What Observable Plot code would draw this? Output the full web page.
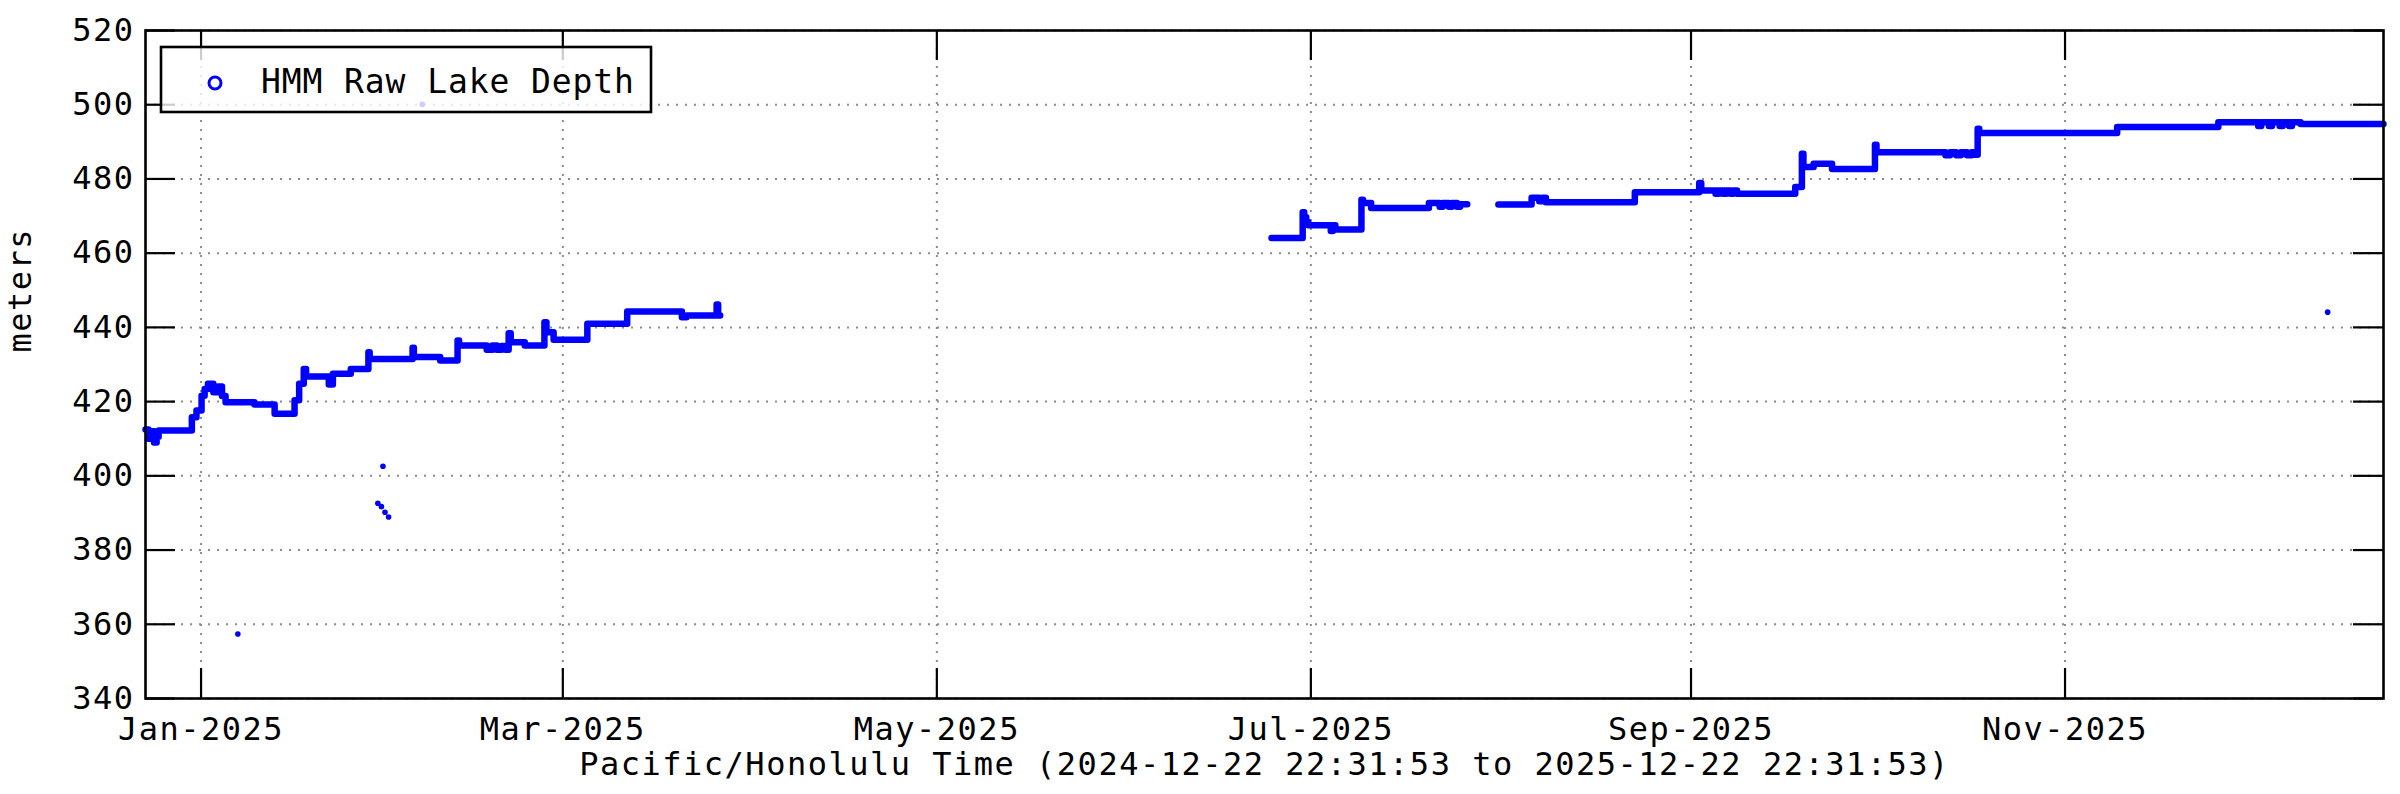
<!DOCTYPE html>
<html><head><meta charset="utf-8">
<script src="https://cdn.jsdelivr.net/npm/d3@7"></script>
<script src="https://cdn.jsdelivr.net/npm/@observablehq/plot@0.6"></script>
<style>
html,body{margin:0;padding:0;background:#fff;}
#wrap{width:2400px;height:794px;}
</style></head><body><div id="wrap"></div>
<script>
// ---- data (Pacific/Honolulu time) ----
const seg1Dates = ["2024-12-22 22:32","2024-12-23 10:00","2024-12-23 20:00","2024-12-24 08:00","2024-12-24 18:00","2024-12-25 02:00","2024-12-30 12:00","2024-12-31 06:00","2025-01-01 02:00","2025-01-01 14:00","2025-01-02 03:00","2025-01-03 00:00","2025-01-03 18:00","2025-01-04 10:00","2025-01-05 00:00","2025-01-09 17:00","2025-01-13 00:00","2025-01-16 06:00","2025-01-17 00:00","2025-01-17 18:00","2025-01-18 03:00","2025-01-21 20:00","2025-01-22 12:00","2025-01-25 10:00","2025-01-28 07:00","2025-01-28 12:00","2025-02-04 12:00","2025-02-04 17:00","2025-02-09 00:00","2025-02-11 20:00","2025-02-12 02:00","2025-02-16 14:00","2025-02-17 12:00","2025-02-18 06:00","2025-02-19 00:00","2025-02-19 16:00","2025-02-20 04:00","2025-02-20 12:00","2025-02-22 19:00","2025-02-26 00:00","2025-02-26 08:00","2025-02-27 12:00","2025-03-05 00:00","2025-03-11 12:00","2025-03-20 10:00","2025-03-21 04:00","2025-03-26 02:00","2025-03-26 08:00","2025-03-26 16:00"];
const seg1Values = [412.5,410,412,409,410.5,412.2,415.8,417.6,421.6,423.4,424.8,422.5,424.1,421.5,419.8,419.2,416.7,420.4,424.8,428.8,426.8,424.6,427.5,428.8,433.3,431.5,434.5,432.0,431.1,436.5,435.1,434.0,435.1,434.0,435.0,434.0,438.4,436.0,435.1,441.4,438.7,436.7,441.0,444.3,442.7,443.2,446.2,443.2,443.2];

const seg2Dates = ["2025-06-24 14:00","2025-06-29 16:00","2025-06-29 22:00","2025-06-30 06:00","2025-06-30 14:00","2025-07-04 06:00","2025-07-04 14:00","2025-07-05 00:00","2025-07-09 06:00","2025-07-09 12:00","2025-07-10 20:00","2025-07-20 06:00","2025-07-22 00:00","2025-07-22 12:00","2025-07-23 12:00","2025-07-24 00:00","2025-07-24 20:00","2025-07-25 08:00","2025-07-26 12:00"];
const seg2Values = [464.1,471.0,469.7,468.3,467.5,466.0,467.5,466.4,474.4,473.5,472.2,473.5,472.5,473.5,472.5,473.5,472.5,473.2,473.2];

const seg3Dates = ["2025-07-31 14:00","2025-08-06 00:00","2025-08-07 06:00","2025-08-07 18:00","2025-08-08 08:00","2025-08-22 20:00","2025-09-02 08:00","2025-09-02 16:00","2025-09-05 00:00","2025-09-05 12:00","2025-09-06 06:00","2025-09-06 18:00","2025-09-07 12:00","2025-09-07 20:00","2025-09-08 12:00","2025-09-18 00:00","2025-09-19 02:00","2025-09-19 08:00","2025-09-21 00:00","2025-09-24 00:00","2025-10-01 00:00","2025-10-01 06:00","2025-10-12 12:00","2025-10-13 06:00","2025-10-14 06:00","2025-10-15 00:00","2025-10-16 00:00","2025-10-16 18:00","2025-10-17 08:00","2025-10-17 18:00","2025-10-18 00:00","2025-11-09 12:00","2025-11-26 00:00","2025-12-02 12:00","2025-12-03 00:00","2025-12-04 06:00","2025-12-04 18:00","2025-12-06 00:00","2025-12-06 12:00","2025-12-07 12:00","2025-12-08 00:00","2025-12-09 10:00","2025-12-22 22:31"];
const seg3Values = [473.1,474.9,474.0,474.9,473.7,476.4,478.9,476.9,476.0,476.9,476.0,476.9,476.0,476.9,476.0,477.8,486.8,483.2,484.1,482.7,489.2,487.2,486.4,487.2,486.4,487.2,486.4,487.2,486.5,493.5,492.4,494.0,495.3,494.3,495.3,494.3,495.3,494.3,495.3,494.3,495.3,494.8,494.8];

const outlierDates = ["2025-01-07 00:00","2025-01-29 20:00","2025-01-30 10:00","2025-01-30 16:00","2025-01-31 00:00","2025-01-31 14:00","2025-02-06 02:00","2025-12-13 20:00"];
const outlierValues = [357.4,392.6,391.7,402.6,390.2,388.9,500.1,444.1];

const xTickDates = ["2025-01-01 00:00","2025-03-01 00:00","2025-05-01 00:00","2025-07-01 00:00","2025-09-01 00:00","2025-11-01 00:00"];
const yTicks = [340,360,380,400,420,440,460,480,500,520];
const xDomain = ["2024-12-22 22:31:53","2025-12-22 22:31:53"];
const yDomain = [340,520];
const seriesName = "HMM Raw Lake Depth";
const xTitle = "Pacific/Honolulu Time (2024-12-22 22:31:53 to 2025-12-22 22:31:53)";
const yTitle = "meters";

// ---- build ----
const parseT = d3.utcParse("%Y-%m-%d %H:%M");
const parseS = d3.utcParse("%Y-%m-%d %H:%M:%S");
const lineData = [];
[[seg1Dates,seg1Values],[seg2Dates,seg2Values],[seg3Dates,seg3Values]].forEach(([ds,vs],k)=>{
  ds.forEach((d,i)=>lineData.push({date:parseT(d), value:vs[i], seg:k}));
});
const outliers = outlierDates.map((d,i)=>({date:parseT(d), value:outlierValues[i]}));
const xTicks = xTickDates.map(parseT);

const W=2400,H=794,mL=145,mR=17,mT=30,mB=96;
const pw=W-mL-mR, ph=H-mT-mB, TL=30;
const font = "'DejaVu Sans Mono', monospace";
const blue = "#0000ff";
const gridStyle = {stroke:"#8c8c8c", strokeOpacity:1, strokeWidth:2, strokeDasharray:"2,7"};

const chart = Plot.plot({
  width:W, height:H, marginLeft:mL, marginRight:mR, marginTop:mT, marginBottom:mB,
  x:{type:"utc", domain:xDomain.map(parseS)},
  y:{domain:yDomain},
  style:{fontFamily:font, fontSize:"32px", background:"#fff", color:"#000", letterSpacing:"1.5px", overflow:"visible"},
  marks:[
    Plot.gridX(xTicks, gridStyle),
    Plot.gridY(yTicks, gridStyle),
    Plot.line(lineData, {x:"date", y:"value", z:"seg", curve:"step-after", stroke:blue, strokeWidth:6.5}),
    Plot.dot(outliers, {x:"date", y:"value", r:2.8, fill:blue, stroke:null}),
    Plot.ruleX(xTicks, {insetTop:ph-TL, stroke:"#000", strokeWidth:2.2}),
    Plot.ruleX(xTicks, {insetBottom:ph-TL, stroke:"#000", strokeWidth:2.2}),
    Plot.ruleY(yTicks, {insetRight:pw-TL, stroke:"#000", strokeWidth:2.2}),
    Plot.ruleY(yTicks, {insetLeft:pw-TL, stroke:"#000", strokeWidth:2.2}),
    Plot.frame({stroke:"#000", strokeWidth:2.6}),
    Plot.axisX(xTicks, {tickSize:0, tickPadding:19, tickFormat:d3.utcFormat("%b-%Y"), label:null, fontSize:32}),
    Plot.axisY(yTicks, {tickSize:0, tickPadding:11, label:null, fontSize:32}),
    Plot.text([xTitle], {frameAnchor:"bottom", dy:66, lineAnchor:"middle", fontSize:32}),
    Plot.text([yTitle], {frameAnchor:"left", dx:-125, dy:-12, rotate:-90, lineAnchor:"middle", fontSize:32})
  ]
});
document.getElementById("wrap").appendChild(chart);

// legend (inside the plot, upper left)
const svg = d3.select(chart);
const lg = svg.append("g").attr("font-family", font).attr("font-size", 33).attr("letter-spacing","0.9px").attr("text-anchor","start");
lg.append("rect").attr("x",161).attr("y",47).attr("width",490).attr("height",65)
  .attr("fill","#fff").attr("fill-opacity",0.8).attr("stroke","#000").attr("stroke-width",2.6);
lg.append("circle").attr("cx",215).attr("cy",83).attr("r",6).attr("fill","none").attr("stroke",blue).attr("stroke-width",3);
lg.append("text").attr("x",261).attr("y",93).attr("fill","#000").attr("text-anchor","start").text(seriesName);
</script>
</body></html>
